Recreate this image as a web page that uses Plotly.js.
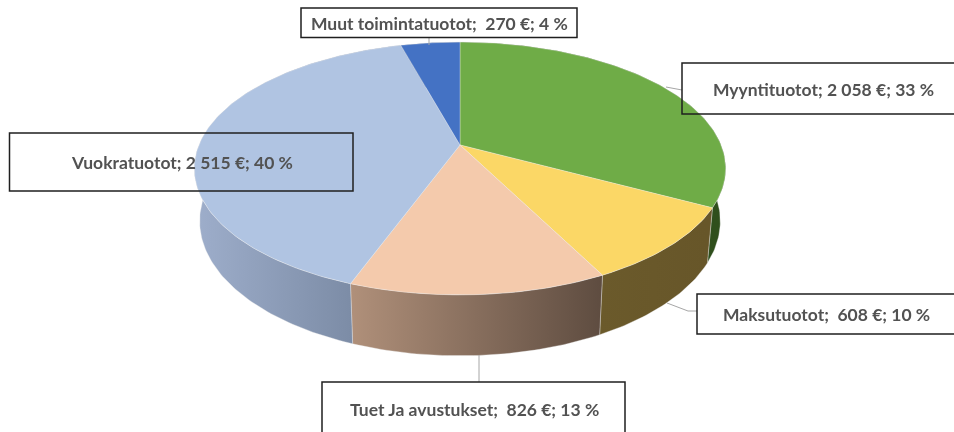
<!DOCTYPE html>
<html>
<head>
<meta charset="utf-8">
<script src="https://cdn.plot.ly/plotly-3.0.1.min.js"></script>
<style>html,body{margin:0;padding:0;background:#fff;overflow:hidden}#chart{filter:blur(0.4px)}</style>
</head>
<body>
<div id="chart" style="width:954px;height:432px"></div>
<script>
// Data
const categories = ["Myyntituotot", "Maksutuotot", "Tuet Ja avustukset", "Vuokratuotot", "Muut toimintatuotot"];
const values = [2058, 608, 826, 2515, 270];
const labels = [
  "Myyntituotot; 2 058 €; 33 %",
  "Maksutuotot;  608 €; 10 %",
  "Tuet Ja avustukset;  826 €; 13 %",
  "Vuokratuotot; 2 515 €; 40 %",
  "Muut toimintatuotot;  270 €; 4 %"
];

// Style
const topColors = ["#6FAC47", "#FBD766", "#F4CAAC", "#B0C4E2", "#4472C4"];
const wallStart = ["#2F4F1C", "#6B5A2B", "#B0907A", "#9EAECB", "#2F4F86"];
const wallStop  = ["#2F4F1C", "#675629", "#5E4C40", "#7C8CA6", "#2F4F86"];
const boxes = [
  [682, 63, 960, 114], [697, 294, 960, 334], [322, 382, 625, 440],
  [9.5, 133, 353, 191], [301, 8, 577, 37.5]
];
const leaders = [
  [[666, 682], [87, 90]],
  [[667, 688, 697], [303, 311, 311]],
  [[479, 479], [355, 382]],
  [[], []],
  [[429, 429], [37, 45]]
];
const textAt = [[823, 89], [826.5, 314], [474, 409], [182, 162], [439, 23]];

// Perspective projection of the tilted disc
const cx = 460, cy = 145, rx = 261, sy = 122, k = 0.186;
function topPt(a) {
  const X = Math.sin(a), Y = Math.cos(a), d = 1 + k * Y;
  return [cx + rx * X / d, cy - sy * Y / d];
}
function botPt(a) {
  const p = topPt(a);
  return [cx + (p[0] - cx) * 0.98, 196 + (p[1] - cy) * 1.066];
}
function arc(fn, a0, a1) {
  const n = Math.max(2, Math.ceil(Math.abs(a1 - a0) * 60)), out = [];
  for (let i = 0; i <= n; i++) out.push(fn(a0 + (a1 - a0) * i / n));
  return out;
}

const total = values.reduce((s, v) => s + v, 0);
const walls = [], tops = [];
let acc = 0;
values.forEach((v, i) => {
  const a0 = acc / total * 2 * Math.PI;
  acc += v;
  const a1 = acc / total * 2 * Math.PI;
  const t = arc(topPt, a0, a1), b = arc(botPt, a0, a1).reverse();
  const wall = t.concat(b, [t[0]]);
  const xs = wall.map(p => p[0]);
  walls.push({
    x: xs, y: wall.map(p => p[1]), mode: "lines", fill: "toself",
    line: {color: "rgba(235,235,235,0.6)", width: 0.6},
    fillgradient: {type: "horizontal",
      start: Math.min(...xs), stop: Math.max(...t.concat(b).filter(p => p[1] > 230).map(p => p[0]).concat([Math.min(...xs) + 1])),
      colorscale: [[0, wallStart[i]], [1, wallStop[i]]]},
    hoverinfo: "skip", showlegend: false, name: categories[i]
  });
  const face = [[cx, cy]].concat(t, [[cx, cy]]);
  tops.push({
    x: face.map(p => p[0]), y: face.map(p => p[1]), mode: "lines", fill: "toself",
    fillcolor: topColors[i], line: {color: "rgba(240,240,240,0.55)", width: 0.6},
    hoverinfo: "skip", showlegend: false, name: categories[i]
  });
});

const shapes = [];
leaders.forEach(l => {
  if (!l[0].length) return;
  shapes.push({type: "path", xref: "x", yref: "y",
    path: l[0].map((x, j) => (j ? "L" : "M") + x + "," + l[1][j]).join(" "),
    line: {color: "#A6A6A6", width: 1}});
});
boxes.forEach(b => shapes.push({type: "rect", xref: "x", yref: "y",
  x0: b[0], y0: b[1], x1: b[2], y1: b[3], line: {color: "#1F1F1F", width: 1.5}}));

const annotations = labels.map((t, i) => ({
  text: t, x: textAt[i][0], y: textAt[i][1], xref: "x", yref: "y",
  showarrow: false, xanchor: "center", yanchor: "middle",
  font: {family: "Lato, 'Open Sans', sans-serif", size: 17.5, weight: 700, color: "#525252"}
}));

Plotly.newPlot("chart", walls.concat(tops), {
  width: 954, height: 432,
  margin: {l: 0, r: 0, t: 0, b: 0},
  paper_bgcolor: "#fff", plot_bgcolor: "#fff",
  xaxis: {range: [0, 954], visible: false, fixedrange: true},
  yaxis: {range: [432, 0], visible: false, fixedrange: true},
  shapes, annotations, showlegend: false
}, {displayModeBar: false, staticPlot: true});
</script>
</body>
</html>
